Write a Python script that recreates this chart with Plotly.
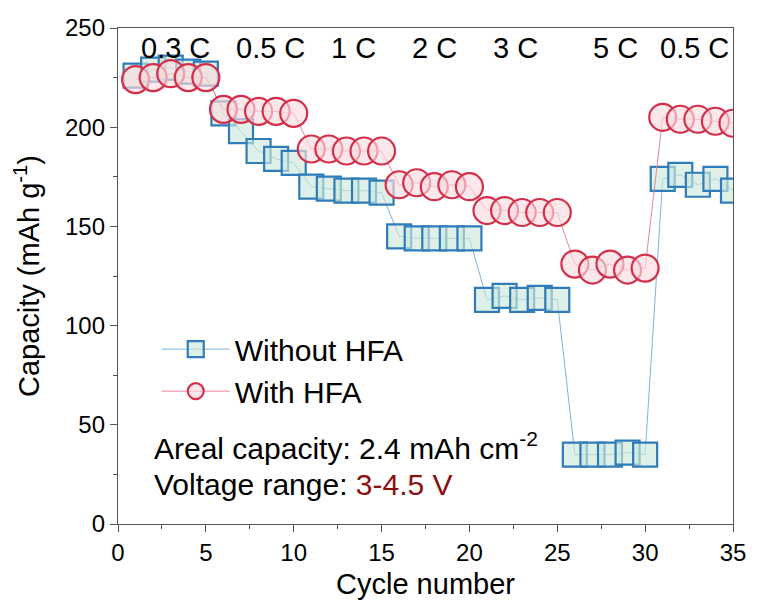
import plotly.graph_objects as go

cycles = list(range(1, 36))
without_hfa = [226, 229, 230, 228, 227,
               207, 198, 188, 184, 182,
               170, 169, 168, 168, 167,
               145, 144, 144, 144, 144,
               113, 115, 113, 114, 113,
               35, 35, 35, 36, 35,
               174, 176, 171, 174, 168]
with_hfa = [224, 225, 227, 225, 225,
            209, 209, 208, 208, 207,
            189, 189, 188, 188, 188,
            171, 172, 170, 171, 170,
            158, 158, 157, 157, 157,
            131, 128, 131, 128, 129,
            205, 204, 204, 203, 202]
rate_labels = ["0.3 C", "0.5 C", "1 C", "2 C", "3 C", "5 C", "0.5 C"]
rate_label_x = [3.3, 8.7, 13.4, 18.0, 22.6, 28.3, 32.8]

FONT = "Liberation Sans, Arial, sans-serif"

fig = go.Figure()
fig.add_trace(go.Scatter(
    x=cycles, y=without_hfa, mode="lines+markers", name="Without HFA",
    line=dict(color="#7fb2dd", width=1),
    marker=dict(symbol="square", size=24, color="rgba(205,232,220,0.65)",
                line=dict(color="#2f7cb9", width=2.2)),
))
fig.add_trace(go.Scatter(
    x=cycles, y=with_hfa, mode="lines+markers", name="With HFA",
    line=dict(color="#e98595", width=1),
    marker=dict(symbol="circle", size=27, color="rgba(250,220,222,0.65)",
                line=dict(color="#d32f4b", width=2.2)),
))

# C-rate labels along the top of the plot
for lbl, xv in zip(rate_labels, rate_label_x):
    fig.add_annotation(x=xv, y=240, text=lbl, showarrow=False,
                       font=dict(size=29, color="black", family=FONT))

fig.add_annotation(xref="paper", yref="paper", x=0.055, y=0.158,
                   xanchor="left", yanchor="middle",
                   text="Areal capacity: 2.4 mAh cm<sup>-2</sup>", showarrow=False,
                   font=dict(size=30, color="black", family=FONT))
fig.add_annotation(xref="paper", yref="paper", x=0.055, y=0.080,
                   xanchor="left", yanchor="middle",
                   text="Voltage range: <span style='color:#8b1010'>3-4.5 V</span>",
                   showarrow=False, font=dict(size=30, color="black", family=FONT))

axis_common = dict(showline=True, linecolor="#555", linewidth=1.3, mirror=True,
                   ticks="outside", ticklen=7, tickcolor="#555", tickwidth=1.3,
                   showgrid=False, zeroline=False,
                   tickfont=dict(size=24, color="black", family=FONT))

fig.update_xaxes(range=[0, 35], dtick=5, tick0=0,
                 minor=dict(ticks="outside", dtick=2.5, ticklen=4, tickcolor="#555"),
                 title=dict(text="Cycle number", font=dict(size=29, color="black", family=FONT),
                            standoff=8),
                 **axis_common)
fig.update_yaxes(range=[0, 250], dtick=50, tick0=0,
                 minor=dict(ticks="outside", dtick=25, ticklen=4, tickcolor="#555"),
                 title=dict(text="Capacity (mAh g<sup>-1</sup>)",
                            font=dict(size=29, color="black", family=FONT), standoff=16),
                 **axis_common)

fig.update_layout(
    width=758, height=606,
    margin=dict(l=118, r=23, t=28, b=82),
    plot_bgcolor="white", paper_bgcolor="white",
    font=dict(family=FONT, color="black"),
    legend=dict(x=0.063, y=0.405, xanchor="left", yanchor="top",
                bgcolor="rgba(0,0,0,0)", font=dict(size=30, color="black", family=FONT),
                itemwidth=68, tracegroupgap=0),
    showlegend=True,
)

fig.write_html("out.html")
